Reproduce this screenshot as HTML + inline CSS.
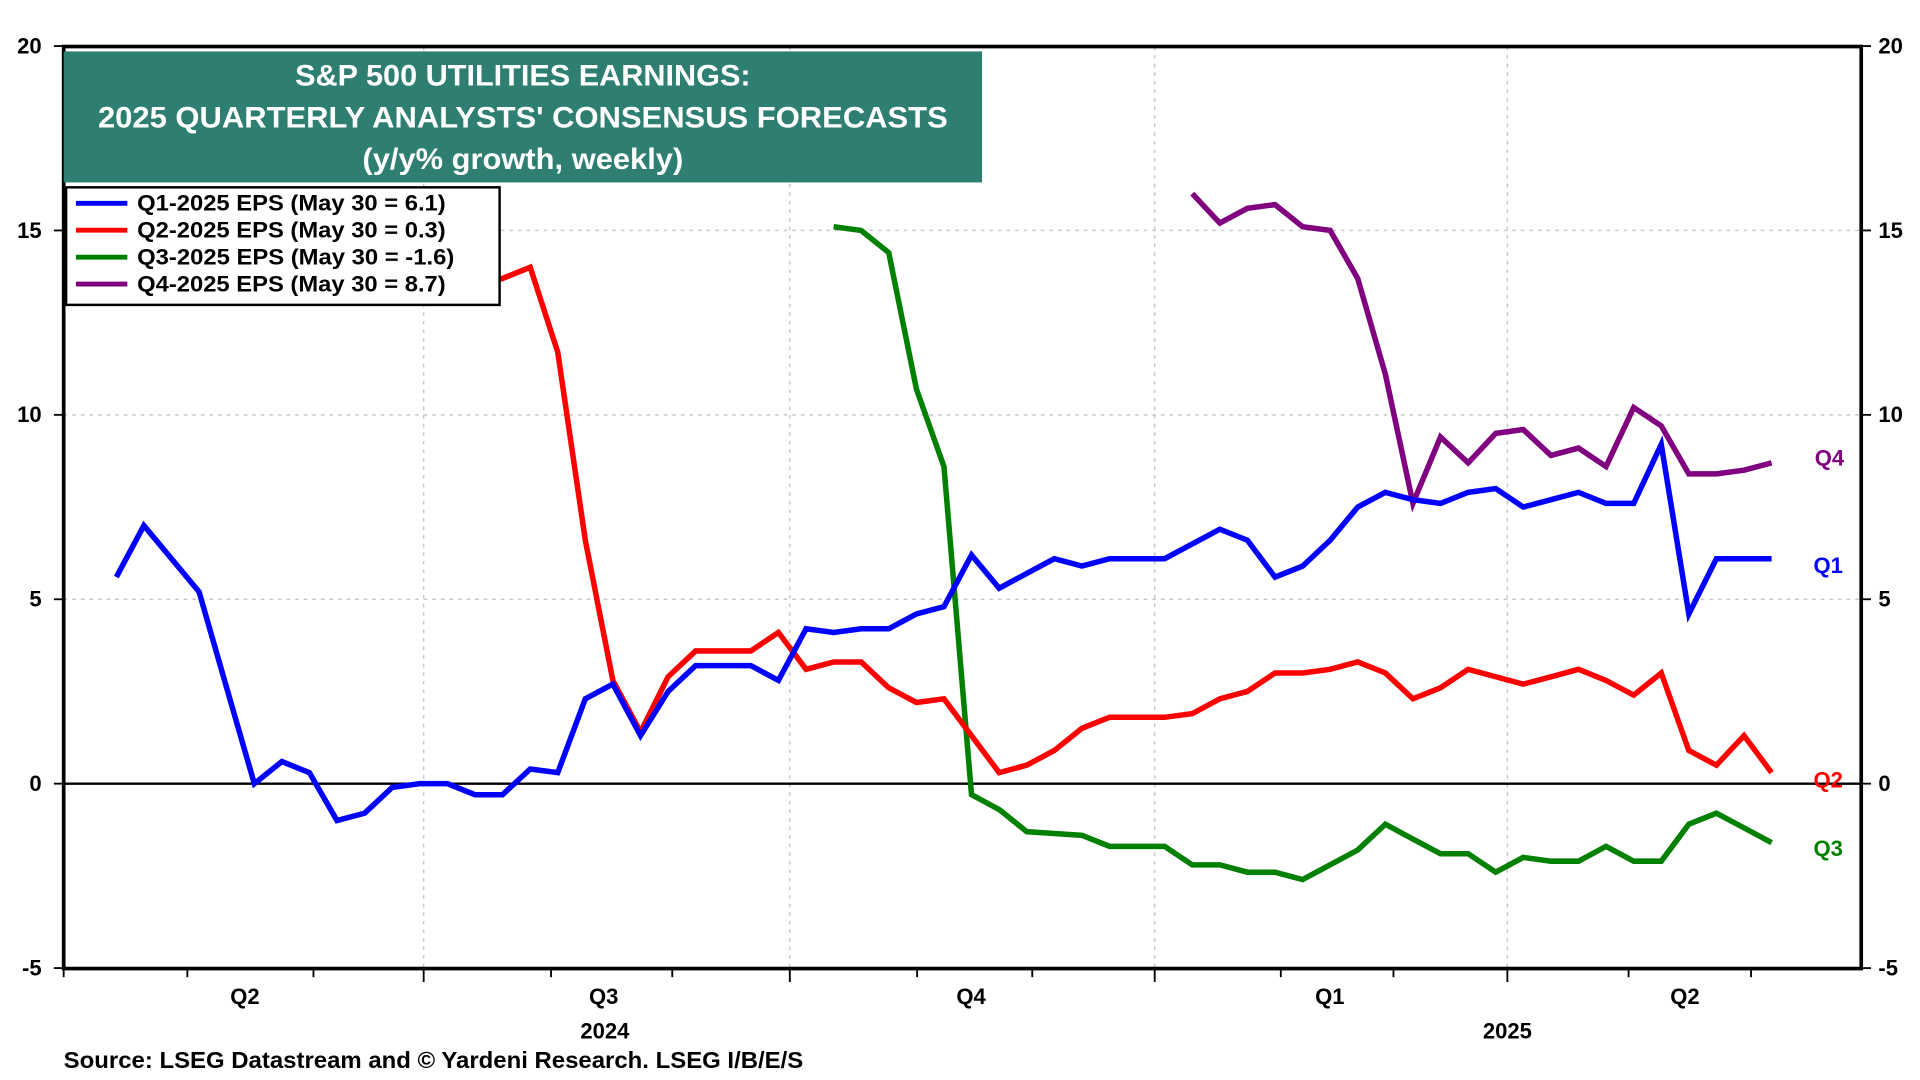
<!DOCTYPE html>
<html><head><meta charset="utf-8"><style>
html,body{margin:0;padding:0;background:#fff;}
svg{display:block;font-family:"Liberation Sans",Arial,sans-serif;font-weight:bold;}
</style></head><body>
<svg id="chart" width="1920" height="1080" viewBox="0 0 1568 882" xmlns="http://www.w3.org/2000/svg">
<rect x="0" y="0" width="1568" height="882" fill="#fff"/>
<g id="grid"></g>
<g id="series"></g>
<rect x="52" y="38" width="1468" height="753" fill="none" stroke="#000" stroke-width="3"/>
<g id="axes"></g>
<g>
<rect x="52" y="42" width="750" height="107" fill="#2e7f72"/>
<text x="427" y="70" fill="#fff" font-size="24" text-anchor="middle" textLength="372" lengthAdjust="spacingAndGlyphs">S&amp;P 500 UTILITIES EARNINGS:</text>
<text x="427" y="104" fill="#fff" font-size="24" text-anchor="middle" textLength="694" lengthAdjust="spacingAndGlyphs">2025 QUARTERLY ANALYSTS' CONSENSUS FORECASTS</text>
<text x="427" y="138" fill="#fff" font-size="24" text-anchor="middle" textLength="262" lengthAdjust="spacingAndGlyphs">(y/y% growth, weekly)</text>
</g>
<g>
<rect x="54" y="153" width="354" height="96" fill="#fff" stroke="#000" stroke-width="2"/>
<line x1="62" y1="166" x2="104" y2="166" stroke="#0000ff" stroke-width="4"/>
<text x="112" y="172" font-size="18" textLength="252" lengthAdjust="spacingAndGlyphs">Q1-2025 EPS (May 30 = 6.1)</text>
<line x1="62" y1="188" x2="104" y2="188" stroke="#ff0000" stroke-width="4"/>
<text x="112" y="194" font-size="18" textLength="252" lengthAdjust="spacingAndGlyphs">Q2-2025 EPS (May 30 = 0.3)</text>
<line x1="62" y1="210" x2="104" y2="210" stroke="#008000" stroke-width="4"/>
<text x="112" y="216" font-size="18" textLength="259" lengthAdjust="spacingAndGlyphs">Q3-2025 EPS (May 30 = -1.6)</text>
<line x1="62" y1="232" x2="104" y2="232" stroke="#800080" stroke-width="4"/>
<text x="112" y="238" font-size="18" textLength="252" lengthAdjust="spacingAndGlyphs">Q4-2025 EPS (May 30 = 8.7)</text>
</g>
<text x="1482" y="380" font-size="18" fill="#800080">Q4</text>
<text x="1481" y="468" font-size="18" fill="#0000ff">Q1</text>
<text x="1481" y="643" font-size="18" fill="#ff0000">Q2</text>
<text x="1481" y="699" font-size="18" fill="#008000">Q3</text>
<text x="52" y="872" font-size="19" textLength="604" lengthAdjust="spacingAndGlyphs">Source: LSEG Datastream and © Yardeni Research. LSEG I/B/E/S</text>
</svg>
<script>
const yTicks = [-5, 0, 5, 10, 15, 20];
const q1Values = [5.6,7.0,6.1,5.2,2.6,0,0.6,0.3,-1.0,-0.8,-0.1,0,0,-0.3,-0.3,0.4,0.3,2.3,2.7,1.3,2.5,3.2,3.2,3.2,2.8,4.2,4.1,4.2,4.2,4.6,4.8,6.2,5.3,5.7,6.1,5.9,6.1,6.1,6.1,6.5,6.9,6.6,5.6,5.9,6.6,7.5,7.9,7.7,7.6,7.9,8.0,7.5,7.7,7.9,7.6,7.6,9.2,4.6,6.1,6.1,6.1];
const q2Start = 12;
const q2Values = [13.2,13.5,13.7,14.0,11.7,6.6,2.8,1.4,2.9,3.6,3.6,3.6,4.1,3.1,3.3,3.3,2.6,2.2,2.3,1.3,0.3,0.5,0.9,1.5,1.8,1.8,1.8,1.9,2.3,2.5,3.0,3.0,3.1,3.3,3.0,2.3,2.6,3.1,2.9,2.7,2.9,3.1,2.8,2.4,3.0,0.9,0.5,1.3,0.3];
const q3Start = 26;
const q3Values = [15.1,15.0,14.4,10.7,8.6,-0.3,-0.7,-1.3,-1.35,-1.4,-1.7,-1.7,-1.7,-2.2,-2.2,-2.4,-2.4,-2.6,-2.2,-1.8,-1.1,-1.5,-1.9,-1.9,-2.4,-2.0,-2.1,-2.1,-1.7,-2.1,-2.1,-1.1,-0.8,-1.2,-1.6];
const q4Start = 39;
const q4Values = [16.0,15.2,15.6,15.7,15.1,15.0,13.7,11.1,7.6,9.4,8.7,9.5,9.6,8.9,9.1,8.6,10.2,9.7,8.4,8.4,8.5,8.7];
const quarterLabels = ["Q2","Q3","Q4","Q1","Q2"];
const yearLabels = ["2024","2025"];

const NS = "http://www.w3.org/2000/svg";
const X0 = 95, DX = 22.53;
function xs(i){ return X0 + i*DX; }
function ys(v){ return 640 - v*30.12; }
function mk(tag, attrs, parent){ const e=document.createElementNS(NS,tag); for(const k in attrs) e.setAttribute(k,attrs[k]); parent.appendChild(e); return e; }
const grid=document.getElementById('grid'), axes=document.getElementById('axes'), series=document.getElementById('series');

[5,10,15].forEach(v=>{
  const l=mk('line',{x1:52,x2:1520,y1:ys(v),y2:ys(v),stroke:'#c8c8c8','stroke-width':1.2,'stroke-dasharray':'3,4'},grid);
  
  
});
const majors=[346,645,943,1231];
majors.forEach(x=>{
  const l=mk('line',{x1:x,x2:x,y1:38,y2:791,stroke:'#c8c8c8','stroke-width':1.2,'stroke-dasharray':'3,4'},grid);
  
  
});
const zl=mk('line',{x1:52,x2:1520,y1:ys(0),y2:ys(0),stroke:'#000','stroke-width':2},grid);



yTicks.forEach(v=>{
  const y=ys(v);
  mk('line',{x1:44,x2:52,y1:y,y2:y,stroke:'#000','stroke-width':1.5},axes);
  mk('line',{x1:1520,x2:1528,y1:y,y2:y,stroke:'#000','stroke-width':1.5},axes);
  const t=mk('text',{x:34,y:y+6,'font-size':18,'text-anchor':'end'},axes); t.textContent=v;
  
  
  const t2=mk('text',{x:1534,y:y+6,'font-size':18},axes); t2.textContent=v;
  
  
});
[52,153,256,450,549,749,843,1046,1138,1330,1430].forEach(x=>mk('line',{x1:x,x2:x,y1:791,y2:798,stroke:'#000','stroke-width':1.5},axes));
majors.forEach(x=>mk('line',{x1:x,x2:x,y1:791,y2:802,stroke:'#000','stroke-width':1.5},axes));
const qx=[200,493,793,1086,1376];
quarterLabels.forEach((q,i)=>{
  const t=mk('text',{x:qx[i],y:820,'font-size':18,'text-anchor':'middle'},axes); t.textContent=q;
  
  
});
const yx=[494,1231];
yearLabels.forEach((q,i)=>{
  const t=mk('text',{x:yx[i],y:848,'font-size':18,'text-anchor':'middle'},axes); t.textContent=q;
  
  
});

function draw(vals,start,color,name){
  const pts=vals.map((v,i)=>xs(start+i).toFixed(1)+','+ys(v).toFixed(1)).join(' ');
  const p=mk('polyline',{points:pts,fill:'none',stroke:color,'stroke-width':4.5,'stroke-linejoin':'miter'},series);
  
  
}
draw(q4Values,q4Start,'#800080','q4-line');
draw(q3Values,q3Start,'#008000','q3-line');
draw(q2Values,q2Start,'#ff0000','q2-line');
draw(q1Values,0,'#0000ff','q1-line');
</script>
</body></html>
